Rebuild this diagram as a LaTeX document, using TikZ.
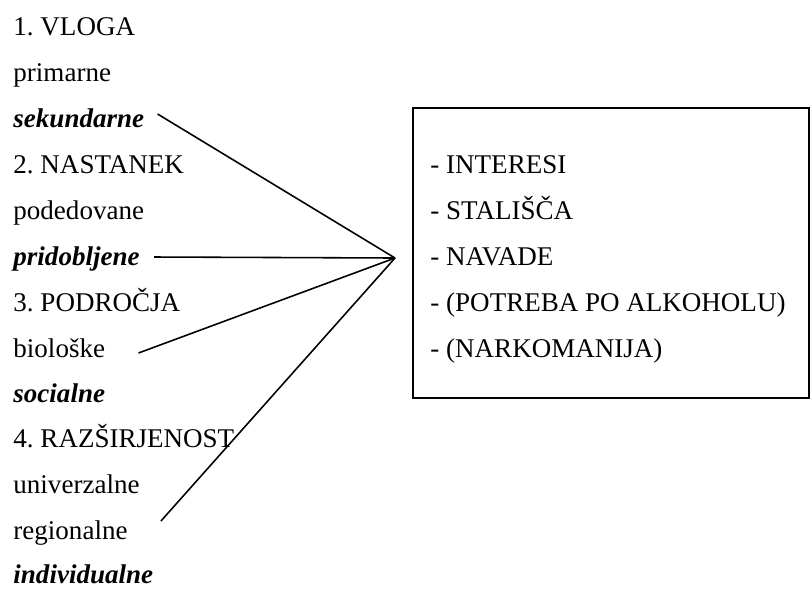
\documentclass[tikz,border=0pt]{standalone}
\usepackage{fontspec}
\setmainfont{Liberation Serif}
\frenchspacing
\begin{document}
\begin{tikzpicture}[
    font=\fontsize{12}{14}\selectfont,
    x=0.444pt, y=-0.444pt,
    item/.style={anchor=base west, inner sep=0pt},
    marked/.style={item, font=\fontsize{12}{14}\selectfont\bfseries\itshape},
    listbox/.style={rectangle, draw, line width=0.8pt, minimum width=175.8pt, minimum height=128.8pt, inner sep=0pt},
    link/.style={draw, line width=0.7pt}
  ]
  \useasboundingbox (0,0) rectangle (812,588);

  % left column
  \node[item] (vloga) at (13,35) {1. VLOGA};
  \node[item] (primarne) at (13,81) {primarne};
  \node[marked] (sekundarne) at (13,127) {sekundarne};
  \node[item] (nastanek) at (13,173) {2. NASTANEK};
  \node[item] (podedovane) at (13,219) {podedovane};
  \node[marked] (pridobljene) at (13,265) {pridobljene};
  \node[item] (podrocja) at (13,311) {3. PODROČJA};
  \node[item] (bioloske) at (13,357) {biološke};
  \node[marked] (socialne) at (13,402) {socialne};
  \node[item] (razsirjenost) at (13,447) {4. RAZŠIRJENOST};
  \node[item] (univerzalne) at (13,493) {univerzalne};
  \node[item] (regionalne) at (13,539) {regionalne};
  \node[marked] (individualne) at (13,583) {individualne};

  % right box
  \node[listbox] (lastnosti) at (611,253) {};
  \node[item] (interesi) at (430,173) {- INTERESI};
  \node[item] (stalisca) at (430,219) {- STALIŠČA};
  \node[item] (navade) at (430,265) {- NAVADE};
  \node[item] (alkohol) at (430,311) {- (POTREBA PO ALKOHOLU)};
  \node[item] (narkomanija) at (430,357) {- (NARKOMANIJA)};

  \coordinate (apex) at (395,258);
  \draw[link] ([shift={(13,-13)}]sekundarne.base east) -- (apex);
  \draw[link] ([shift={(14,-8)}]pridobljene.base east) -- (apex);
  \draw[link] ([shift={(33,-4)}]bioloske.base east) -- (apex);
  \draw[link] ([shift={(33,-18)}]regionalne.base east) -- (apex);
\end{tikzpicture}
\end{document}
